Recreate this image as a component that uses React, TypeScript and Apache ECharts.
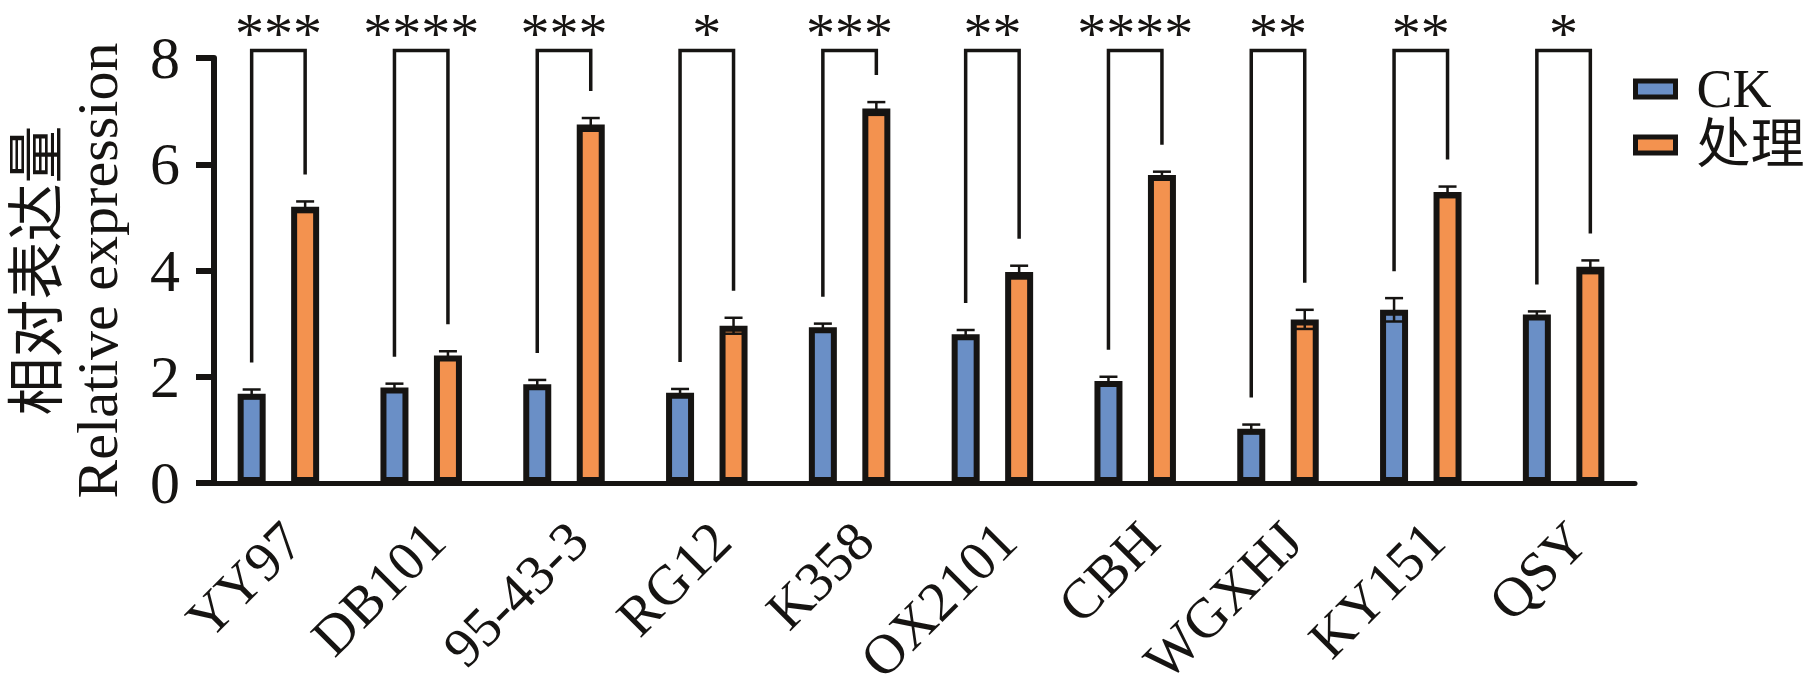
import { useEffect, useRef } from "react";
import * as echarts from "echarts";

const categories = ["YY97", "DB101", "95-43-3", "RG12", "K358", "OX2101", "CBH", "WGXHJ", "KY151", "QSY"];
const ckValues = [1.68, 1.8, 1.86, 1.7, 2.93, 2.8, 1.92, 1.02, 3.26, 3.17];
const ckErrors = [0.08, 0.07, 0.08, 0.07, 0.07, 0.08, 0.08, 0.08, 0.22, 0.06];
const trtValues = [5.2, 2.4, 6.75, 2.96, 7.05, 3.97, 5.8, 3.08, 5.48, 4.07];
const trtErrors = [0.1, 0.08, 0.12, 0.15, 0.12, 0.12, 0.06, 0.18, 0.1, 0.12];
const significance = ["***", "****", "***", "*", "***", "**", "****", "**", "**", "*"];
const yTicks = { min: 0, max: 8, interval: 2 };

const FONT = "'Liberation Serif', 'Times New Roman', 'Noto Sans CJK SC', serif";
const INK = "#161412";
const BLUE = "#6A8FC6";
const ORANGE = "#F3924F";
const BAR_WIDTH = 28;
const BAR_GAP = 0.91;
const BRACKET_TOP = 8.14;
const LEG_GAP = 27;

export default function App() {
  const chartRef = useRef<HTMLDivElement>(null);

  useEffect(() => {
    document.body.style.margin = "0";
    if (!chartRef.current) return;
    const chart = echarts.init(chartRef.current, null, { renderer: "svg" });

    // half distance between the two bar centres of a group
    const off = (BAR_WIDTH * (1 + BAR_GAP)) / 2;

    const errorData = [
      ...categories.map((_, i) => [i, ckValues[i], ckErrors[i], -1]),
      ...categories.map((_, i) => [i, trtValues[i], trtErrors[i], 1]),
    ];
    const bracketData = categories.map((_, i) => [
      i,
      ckValues[i] + ckErrors[i],
      trtValues[i] + trtErrors[i],
    ]);

    const line = { stroke: INK, lineWidth: 2.5 };

    chart.setOption({
      animation: false,
      grid: {
        left: 207,
        right: 181,
        top: 58,
        bottom: 208,
        containLabel: false,
        outerBoundsMode: "none",
      },
      legend: {
        orient: "vertical",
        left: 1628,
        top: 56,
        itemWidth: 40,
        itemHeight: 16,
        itemGap: 0,
        icon: "rect",
        data: ["CK", "处理"],
        itemStyle: { borderColor: INK, borderWidth: 5 },
        textStyle: {
          fontFamily: FONT,
          fontSize: 54,
          lineHeight: 56,
          color: INK,
          padding: [0, 0, 0, 16],
        },
      },
      xAxis: {
        type: "category",
        data: categories,
        axisLine: { lineStyle: { color: INK, width: 5 } },
        axisTick: { alignWithLabel: true, length: 17, lineStyle: { color: INK, width: 5 } },
        axisLabel: {
          rotate: 45,
          fontFamily: FONT,
          fontSize: 56,
          lineHeight: 40,
          color: INK,
          margin: 34,
          verticalAlign: "top",
        },
      },
      yAxis: {
        type: "value",
        ...yTicks,
        offset: -7,
        name: "相对表达量\nRelative expression",
        nameLocation: "middle",
        nameRotate: 90,
        nameGap: 87,
        nameTextStyle: { fontFamily: FONT, fontSize: 58, lineHeight: 60, color: INK },
        axisLine: { show: true, lineStyle: { color: INK, width: 6 } },
        axisTick: { show: true, length: 18, lineStyle: { color: INK, width: 6 } },
        splitLine: { show: false },
        axisLabel: { fontFamily: FONT, fontSize: 60, color: INK, margin: 34 },
      },
      series: [
        {
          name: "CK",
          type: "bar",
          data: ckValues,
          barWidth: BAR_WIDTH,
          barGap: `${BAR_GAP * 100}%`,
          itemStyle: { color: BLUE, borderColor: INK, borderWidth: 6 },
        },
        {
          name: "处理",
          type: "bar",
          data: trtValues,
          barWidth: BAR_WIDTH,
          barGap: `${BAR_GAP * 100}%`,
          itemStyle: { color: ORANGE, borderColor: INK, borderWidth: 6 },
        },
        {
          type: "custom",
          data: errorData,
          encode: { x: 0, y: 1 },
          z: 3,
          renderItem: (_params: any, api: any) => {
            const i = api.value(0);
            const v = api.value(1);
            const e = api.value(2);
            const x = api.coord([i, v])[0] + api.value(3) * off;
            const yHi = api.coord([i, v + e])[1];
            const yLo = api.coord([i, v - e])[1];
            return {
              type: "group",
              children: [
                { type: "line", shape: { x1: x, y1: yHi, x2: x, y2: yLo }, style: line },
                { type: "line", shape: { x1: x - 9, y1: yHi, x2: x + 9, y2: yHi }, style: line },
                { type: "line", shape: { x1: x - 9, y1: yLo, x2: x + 9, y2: yLo }, style: line },
              ],
            };
          },
        },
        {
          type: "custom",
          data: bracketData,
          encode: { x: 0, y: 1 },
          z: 3,
          renderItem: (params: any, api: any) => {
            const i = api.value(0);
            const c = api.coord([i, BRACKET_TOP]);
            const xL = c[0] - off;
            const xR = c[0] + off;
            const yT = c[1];
            const yL = api.coord([i, api.value(1)])[1] - LEG_GAP;
            const yR = api.coord([i, api.value(2)])[1] - LEG_GAP;
            return {
              type: "group",
              children: [
                {
                  type: "polyline",
                  shape: { points: [[xL, yL], [xL, yT], [xR, yT], [xR, yR]] },
                  style: { stroke: INK, lineWidth: 3.5, fill: null, lineJoin: "miter" },
                },
                {
                  type: "text",
                  style: {
                    text: significance[params.dataIndex],
                    x: c[0],
                    y: yT - 17,
                    fill: INK,
                    fontFamily: FONT,
                    fontSize: 58,
                    align: "center",
                    verticalAlign: "middle",
                  },
                },
              ],
            };
          },
        },
      ],
    });

    return () => chart.dispose();
  }, []);

  return <div ref={chartRef} style={{ width: 1816, height: 691 }} />;
}
